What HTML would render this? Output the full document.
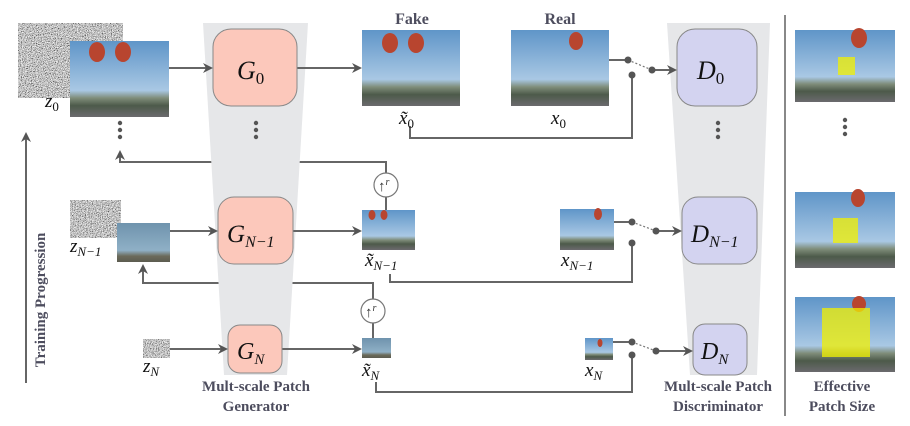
<!DOCTYPE html>
<html><head><meta charset="utf-8"><style>body{margin:0;background:#fff}svg{display:block}</style></head><body>
<svg width="910" height="426" viewBox="0 0 910 426" xmlns="http://www.w3.org/2000/svg" font-family="Liberation Serif, serif">
<defs>
<filter id="nz" x="0" y="0" width="100%" height="100%"><feTurbulence type="fractalNoise" baseFrequency="1.2" numOctaves="1" seed="3"/><feColorMatrix type="saturate" values="0"/><feComponentTransfer><feFuncR type="linear" slope="3" intercept="-0.95"/><feFuncG type="linear" slope="3" intercept="-0.95"/><feFuncB type="linear" slope="3" intercept="-0.95"/><feFuncA type="table" tableValues="1 1"/></feComponentTransfer></filter>
<linearGradient id="sky" x1="0" y1="0" x2="0" y2="1"><stop offset="0" stop-color="#5f95c8"/><stop offset="0.65" stop-color="#a9c8e4"/><stop offset="0.75" stop-color="#7f8d7a"/><stop offset="0.85" stop-color="#4d5a4a"/><stop offset="1" stop-color="#6b6a6e"/></linearGradient>
<linearGradient id="blur" x1="0" y1="0" x2="0" y2="1"><stop offset="0" stop-color="#6f93ad"/><stop offset="0.7" stop-color="#8fb0c6"/><stop offset="0.85" stop-color="#6b6a5a"/><stop offset="1" stop-color="#5c5c50"/></linearGradient>
<marker id="ar" markerWidth="10" markerHeight="10" refX="8" refY="5" orient="auto" markerUnits="userSpaceOnUse"><path d="M0,0 L10,5 L0,10 L3,5z" fill="#555"/></marker>
</defs>
<g stroke="#666" stroke-width="2" fill="none">
<path d="M386,173 V162 H120 V152" marker-end="url(#ar)"/>
<path d="M386,197 V210"/>
<path d="M373,299 V283 H143 V266" marker-end="url(#ar)"/>
<path d="M373,323 V338"/>
<path d="M410,126 V138 H632 V75"/>
<path d="M390,274 V282 H632 V243"/>
<path d="M376,382 V392 H632 V355"/>
<path d="M26,383 V134" marker-end="url(#ar)"/>
</g>
<polygon points="203,23 308,23 287,375 224,375" fill="#e6e7e9"/>
<polygon points="667,23 770,23 757,375 690,375" fill="#e6e7e9"/>
<g stroke="#666" stroke-width="2" fill="none">
<path d="M169,68 H211" marker-end="url(#ar)"/>
<path d="M297,68 H360" marker-end="url(#ar)"/>
<path d="M170,231 H216" marker-end="url(#ar)"/>
<path d="M293,231 H360" marker-end="url(#ar)"/>
<path d="M170,349 H226" marker-end="url(#ar)"/>
<path d="M282,349 H360" marker-end="url(#ar)"/>
<path d="M609,60 H628"/><path d="M652,70 H675" marker-end="url(#ar)"/>
<path d="M614,222 H632"/><path d="M656,231 H680" marker-end="url(#ar)"/>
<path d="M613,342 H632"/><path d="M656,351 H691" marker-end="url(#ar)"/>
</g>
<g stroke="#777" stroke-width="1.2" stroke-dasharray="2,2"><path d="M628,60 L652,70"/><path d="M632,222 L656,231"/><path d="M632,342 L656,351"/></g>
<g fill="#555"><circle cx="628" cy="60" r="3.5"/><circle cx="652" cy="70" r="3.5"/><circle cx="632" cy="75" r="3.5"/>
<circle cx="632" cy="222" r="3.5"/><circle cx="656" cy="231" r="3.5"/><circle cx="632" cy="243" r="3.5"/>
<circle cx="632" cy="342" r="3.5"/><circle cx="656" cy="351" r="3.5"/><circle cx="632" cy="355" r="3.5"/>
<circle cx="120" cy="123" r="2.2"/><circle cx="120" cy="130" r="2.2"/><circle cx="120" cy="137" r="2.2"/>
<circle cx="256" cy="123" r="2.2"/><circle cx="256" cy="130" r="2.2"/><circle cx="256" cy="137" r="2.2"/>
<circle cx="718" cy="123" r="2.2"/><circle cx="718" cy="130" r="2.2"/><circle cx="718" cy="137" r="2.2"/>
<circle cx="845" cy="120" r="2.2"/><circle cx="845" cy="127" r="2.2"/><circle cx="845" cy="134" r="2.2"/></g>
<rect x="18" y="23" width="105" height="75" filter="url(#nz)"/>
<rect x="70" y="200" width="51" height="38" filter="url(#nz)"/>
<rect x="143" y="339" width="27" height="19" filter="url(#nz)"/>
<rect x="70" y="41" width="99" height="76" fill="url(#sky)"/>
<rect x="362" y="30" width="98" height="76" fill="url(#sky)"/>
<rect x="511" y="30" width="98" height="76" fill="url(#sky)"/>
<rect x="117" y="223" width="53" height="39" fill="url(#blur)"/>
<rect x="362" y="210" width="53" height="40" fill="url(#sky)"/>
<rect x="560" y="209" width="54" height="41" fill="url(#sky)"/>
<rect x="362" y="338" width="29" height="20" fill="url(#blur)"/>
<rect x="585" y="338" width="28" height="22" fill="url(#sky)"/>
<rect x="795" y="30" width="100" height="72" fill="url(#sky)"/>
<rect x="795" y="192" width="100" height="76" fill="url(#sky)"/>
<rect x="795" y="297" width="100" height="75" fill="url(#sky)"/>
<g fill="#b8452f"><ellipse cx="97" cy="52" rx="8" ry="10"/><ellipse cx="123" cy="52" rx="8" ry="10"/><ellipse cx="390" cy="43" rx="8" ry="10"/><ellipse cx="416" cy="43" rx="8" ry="10"/><ellipse cx="576" cy="41" rx="7" ry="9"/><ellipse cx="859" cy="38" rx="8" ry="10"/><ellipse cx="598" cy="214" rx="4" ry="6"/><ellipse cx="372" cy="215" rx="3.5" ry="5"/><ellipse cx="384" cy="215" rx="3.5" ry="5"/><ellipse cx="600" cy="343" rx="2.5" ry="4"/><ellipse cx="858" cy="198" rx="7" ry="9"/><ellipse cx="859" cy="304" rx="7" ry="8"/></g>
<g fill="#f2f000" fill-opacity="0.75"><rect x="838" y="57" width="17" height="18"/><rect x="833" y="218" width="25" height="25"/><rect x="822" y="308" width="48" height="49"/></g>
<g stroke="#888" stroke-width="1">
<rect x="213" y="29" width="84" height="77" rx="18" fill="#fcc8bb"/>
<rect x="218" y="197" width="75" height="67" rx="16" fill="#fcc8bb"/>
<rect x="228" y="325" width="54" height="48" rx="12" fill="#fcc8bb"/>
<rect x="677" y="29" width="80" height="77" rx="18" fill="#d3d3f0"/>
<rect x="682" y="197" width="75" height="67" rx="16" fill="#d3d3f0"/>
<rect x="693" y="324" width="54" height="51" rx="12" fill="#d3d3f0"/>
</g>
<g fill="#fff" stroke="#777" stroke-width="1.2"><circle cx="386" cy="185" r="12"/><circle cx="373" cy="311" r="12"/></g>
<g font-size="15" fill="#333" font-style="italic"><text x="378" y="191">↑<tspan font-size="10" dy="-6">r</tspan></text><text x="365" y="317">↑<tspan font-size="10" dy="-6">r</tspan></text></g>
<g font-style="italic" fill="#111">
<text x="237" y="79" font-size="26">G<tspan font-size="17" font-style="normal" dy="5">0</tspan></text>
<text x="227" y="242" font-size="25">G<tspan font-size="16" dy="5">N−1</tspan></text>
<text x="237" y="359" font-size="24">G<tspan font-size="15" dy="5">N</tspan></text>
<text x="697" y="79" font-size="26">D<tspan font-size="17" font-style="normal" dy="5">0</tspan></text>
<text x="691" y="242" font-size="25">D<tspan font-size="16" dy="5">N−1</tspan></text>
<text x="701" y="359" font-size="24">D<tspan font-size="15" dy="5">N</tspan></text>
<text x="45" y="107" font-size="19">z<tspan font-size="13" font-style="normal" dy="4">0</tspan></text>
<text x="70" y="252" font-size="19">z<tspan font-size="13" dy="4">N−1</tspan></text>
<text x="143" y="372" font-size="19">z<tspan font-size="13" dy="4">N</tspan></text>
<text x="399" y="124" font-size="19">x̃<tspan font-size="13" font-style="normal" dy="4">0</tspan></text>
<text x="551" y="124" font-size="19">x<tspan font-size="13" font-style="normal" dy="4">0</tspan></text>
<text x="365" y="266" font-size="19">x̃<tspan font-size="13" dy="4">N−1</tspan></text>
<text x="561" y="266" font-size="19">x<tspan font-size="13" dy="4">N−1</tspan></text>
<text x="362" y="376" font-size="19">x̃<tspan font-size="13" dy="4">N</tspan></text>
<text x="585" y="376" font-size="19">x<tspan font-size="13" dy="4">N</tspan></text>
</g>
<g font-weight="bold" fill="#4d4d5e" font-size="15" text-anchor="middle">
<text x="412" y="24" font-size="16">Fake</text><text x="560" y="24" font-size="16">Real</text>
<text x="256" y="391">Mult-scale Patch</text><text x="256" y="411">Generator</text>
<text x="718" y="391">Mult-scale Patch</text><text x="718" y="411">Discriminator</text>
<text x="842" y="391">Effective</text><text x="842" y="411">Patch Size</text>
<text transform="translate(45,300) rotate(-90)">Training Progression</text>
</g>
<line x1="785" y1="15" x2="785" y2="416" stroke="#888" stroke-width="2"/>
</svg>
</body></html>
